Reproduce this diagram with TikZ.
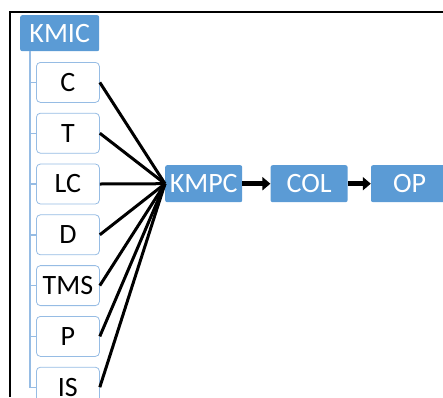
\documentclass[tikz,border=0pt]{standalone}
\usepackage{fontspec}
\setsansfont{Carlito}
\usetikzlibrary{positioning, arrows.meta}
\definecolor{kmblue}{RGB}{91,155,213}
\definecolor{kmline}{RGB}{150,188,228}

\begin{document}
\begin{tikzpicture}[
    x=1pt, y=1pt,
    every node/.style={font=\sffamily\fontsize{28}{30}\selectfont},
    head/.style={fill=kmblue, text=white, rounded corners=2pt, inner sep=0pt, minimum width=77pt, minimum height=37pt},
    leaf/.style={draw=kmline, thick, fill=white, rounded corners=4pt, inner sep=0pt, minimum width=63pt, minimum height=40pt},
    branch/.style={draw=kmline, line width=1.4pt},
    feed/.style={draw, line width=3pt},
    flow/.style={draw, line width=5.5pt, -{Triangle[length=8pt, width=13pt]}},
]
\useasboundingbox (0,0) rectangle (443,-397);
\clip (0,0) rectangle (443,-397);

% ── Frame ────────────────────────────────────────────────────────────────────
\draw[line width=2.6pt] (10,-397) -- (10,-12) -- (443,-12);

% ── KMIC tree (left) ─────────────────────────────────────────────────────────
\node[head, minimum width=79pt, minimum height=36pt, anchor=north west] (kmic) at (20,-15) {KMIC};

\node[leaf, anchor=north west] (c) at (36,-62) {C};
\node[leaf, below=10pt of c]   (t)   {T};
\node[leaf, below=10pt of t]   (lc)  {LC};
\node[leaf, below=10pt of lc]  (d)   {D};
\node[leaf, below=10pt of d]   (tms) {TMS};
\node[leaf, below=10pt of tms] (p)   {P};
\node[leaf, below=10pt of p]   (is)  {IS};

\coordinate (trunk) at ([xshift=10pt]kmic.south west);
\draw[branch] (trunk) |- (is.west);
\draw[branch] (trunk |- c.west)   -- (c.west);
\draw[branch] (trunk |- t.west)   -- (t.west);
\draw[branch] (trunk |- lc.west)  -- (lc.west);
\draw[branch] (trunk |- d.west)   -- (d.west);
\draw[branch] (trunk |- tms.west) -- (tms.west);
\draw[branch] (trunk |- p.west)   -- (p.west);

% ── Pipeline (right) ─────────────────────────────────────────────────────────
\node[head, anchor=north west] (kmpc) at (165,-165) {KMPC};
\node[head, right=28pt of kmpc] (col) {COL};
\node[head, right=23pt of col]  (op)  {OP};

\draw[flow] (kmpc) -- (col);
\draw[flow] (col)  -- (op);

% ── Feeds into KMPC ──────────────────────────────────────────────────────────
\draw[feed] (c.east)   -- (kmpc.west);
\draw[feed] (t.east)   -- (kmpc.west);
\draw[feed] (lc.east)  -- (kmpc.west);
\draw[feed] (d.east)   -- (kmpc.west);
\draw[feed] (tms.east) -- (kmpc.west);
\draw[feed] (p.east)   -- (kmpc.west);
\draw[feed] (is.east)  -- (kmpc.west);

\end{tikzpicture}
\end{document}
